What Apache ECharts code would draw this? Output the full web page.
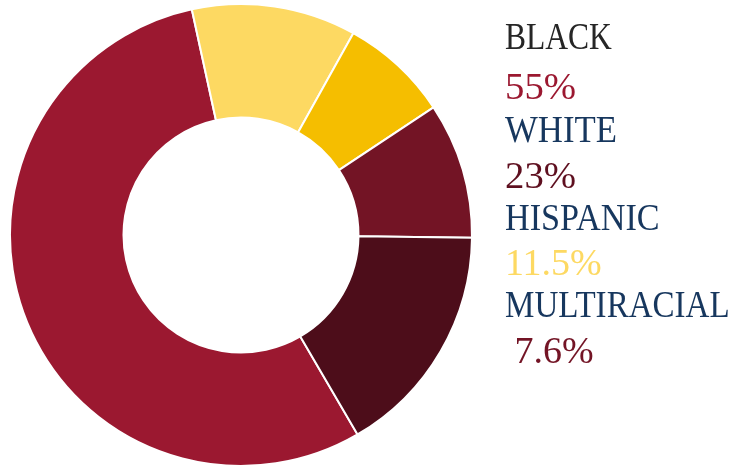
<!DOCTYPE html>
<html>
<head>
<meta charset="utf-8">
<script src="https://cdn.jsdelivr.net/npm/echarts@6/dist/echarts.min.js"></script>
<style>
html,body{margin:0;padding:0;background:#fff;}
#c{width:731px;height:468px;}
</style>
</head>
<body>
<div id="c"></div>
<script>
// Slices (clockwise from lower-right boundary)
var sliceNames = ['Black', 'Hispanic', 'Multiracial', 'Other', 'White'];
var sliceValues = [55, 11.5, 7.6, 9.5, 16.4];
var sliceColors = ['#9B1830', '#FDD962', '#F5BE00', '#731425', '#4D0D1A'];

// Legend text on the right
var legendNames = ['BLACK', 'WHITE', 'HISPANIC', 'MULTIRACIAL'];
var legendPercents = ['55%', '23%', '11.5%', ' 7.6%'];
var legendNameColors = ['#262626', '#17375E', '#17375E', '#17375E'];
var legendPercentColors = ['#9B1830', '#5E0F1F', '#FDD962', '#731425'];

var chart = echarts.init(document.getElementById('c'), null, {renderer: 'canvas'});

var fontSize = 38;
var font = '"Liberation Serif", "DejaVu Serif", serif';
var nameMid = [38.9, 132.2, 219.9, 307.2];
var pctMid = [89.5, 177.8, 265.5, 352.8];
var nameScale = [0.83, 0.915, 0.9, 0.87];
var pctScale = [1.02, 1.02, 1.0, 1.0];

var graphics = [];
legendNames.forEach(function (n, i) {
  graphics.push({
    type: 'text', x: 505, y: nameMid[i], scaleX: nameScale[i],
    style: {text: n, fill: legendNameColors[i], font: fontSize + 'px ' + font,
            textAlign: 'left', textVerticalAlign: 'middle', verticalAlign: 'middle'}
  });
  graphics.push({
    type: 'text', x: 505, y: pctMid[i], scaleX: pctScale[i],
    style: {text: legendPercents[i], fill: legendPercentColors[i], font: fontSize + 'px ' + font,
            textAlign: 'left', textVerticalAlign: 'middle', verticalAlign: 'middle'}
  });
});

chart.setOption({
  animation: false,
  backgroundColor: '#ffffff',
  series: [{
    type: 'pie',
    center: [241, 235],
    radius: [117.5, 231],
    startAngle: -59.7,
    clockwise: true,
    avoidLabelOverlap: false,
    label: {show: false},
    labelLine: {show: false},
    itemStyle: {borderColor: '#ffffff', borderWidth: 2},
    emphasis: {disabled: true},
    data: sliceNames.map(function (n, i) {
      return {name: n, value: sliceValues[i], itemStyle: {color: sliceColors[i]}};
    })
  }],
  graphic: graphics
});
</script>
</body>
</html>
